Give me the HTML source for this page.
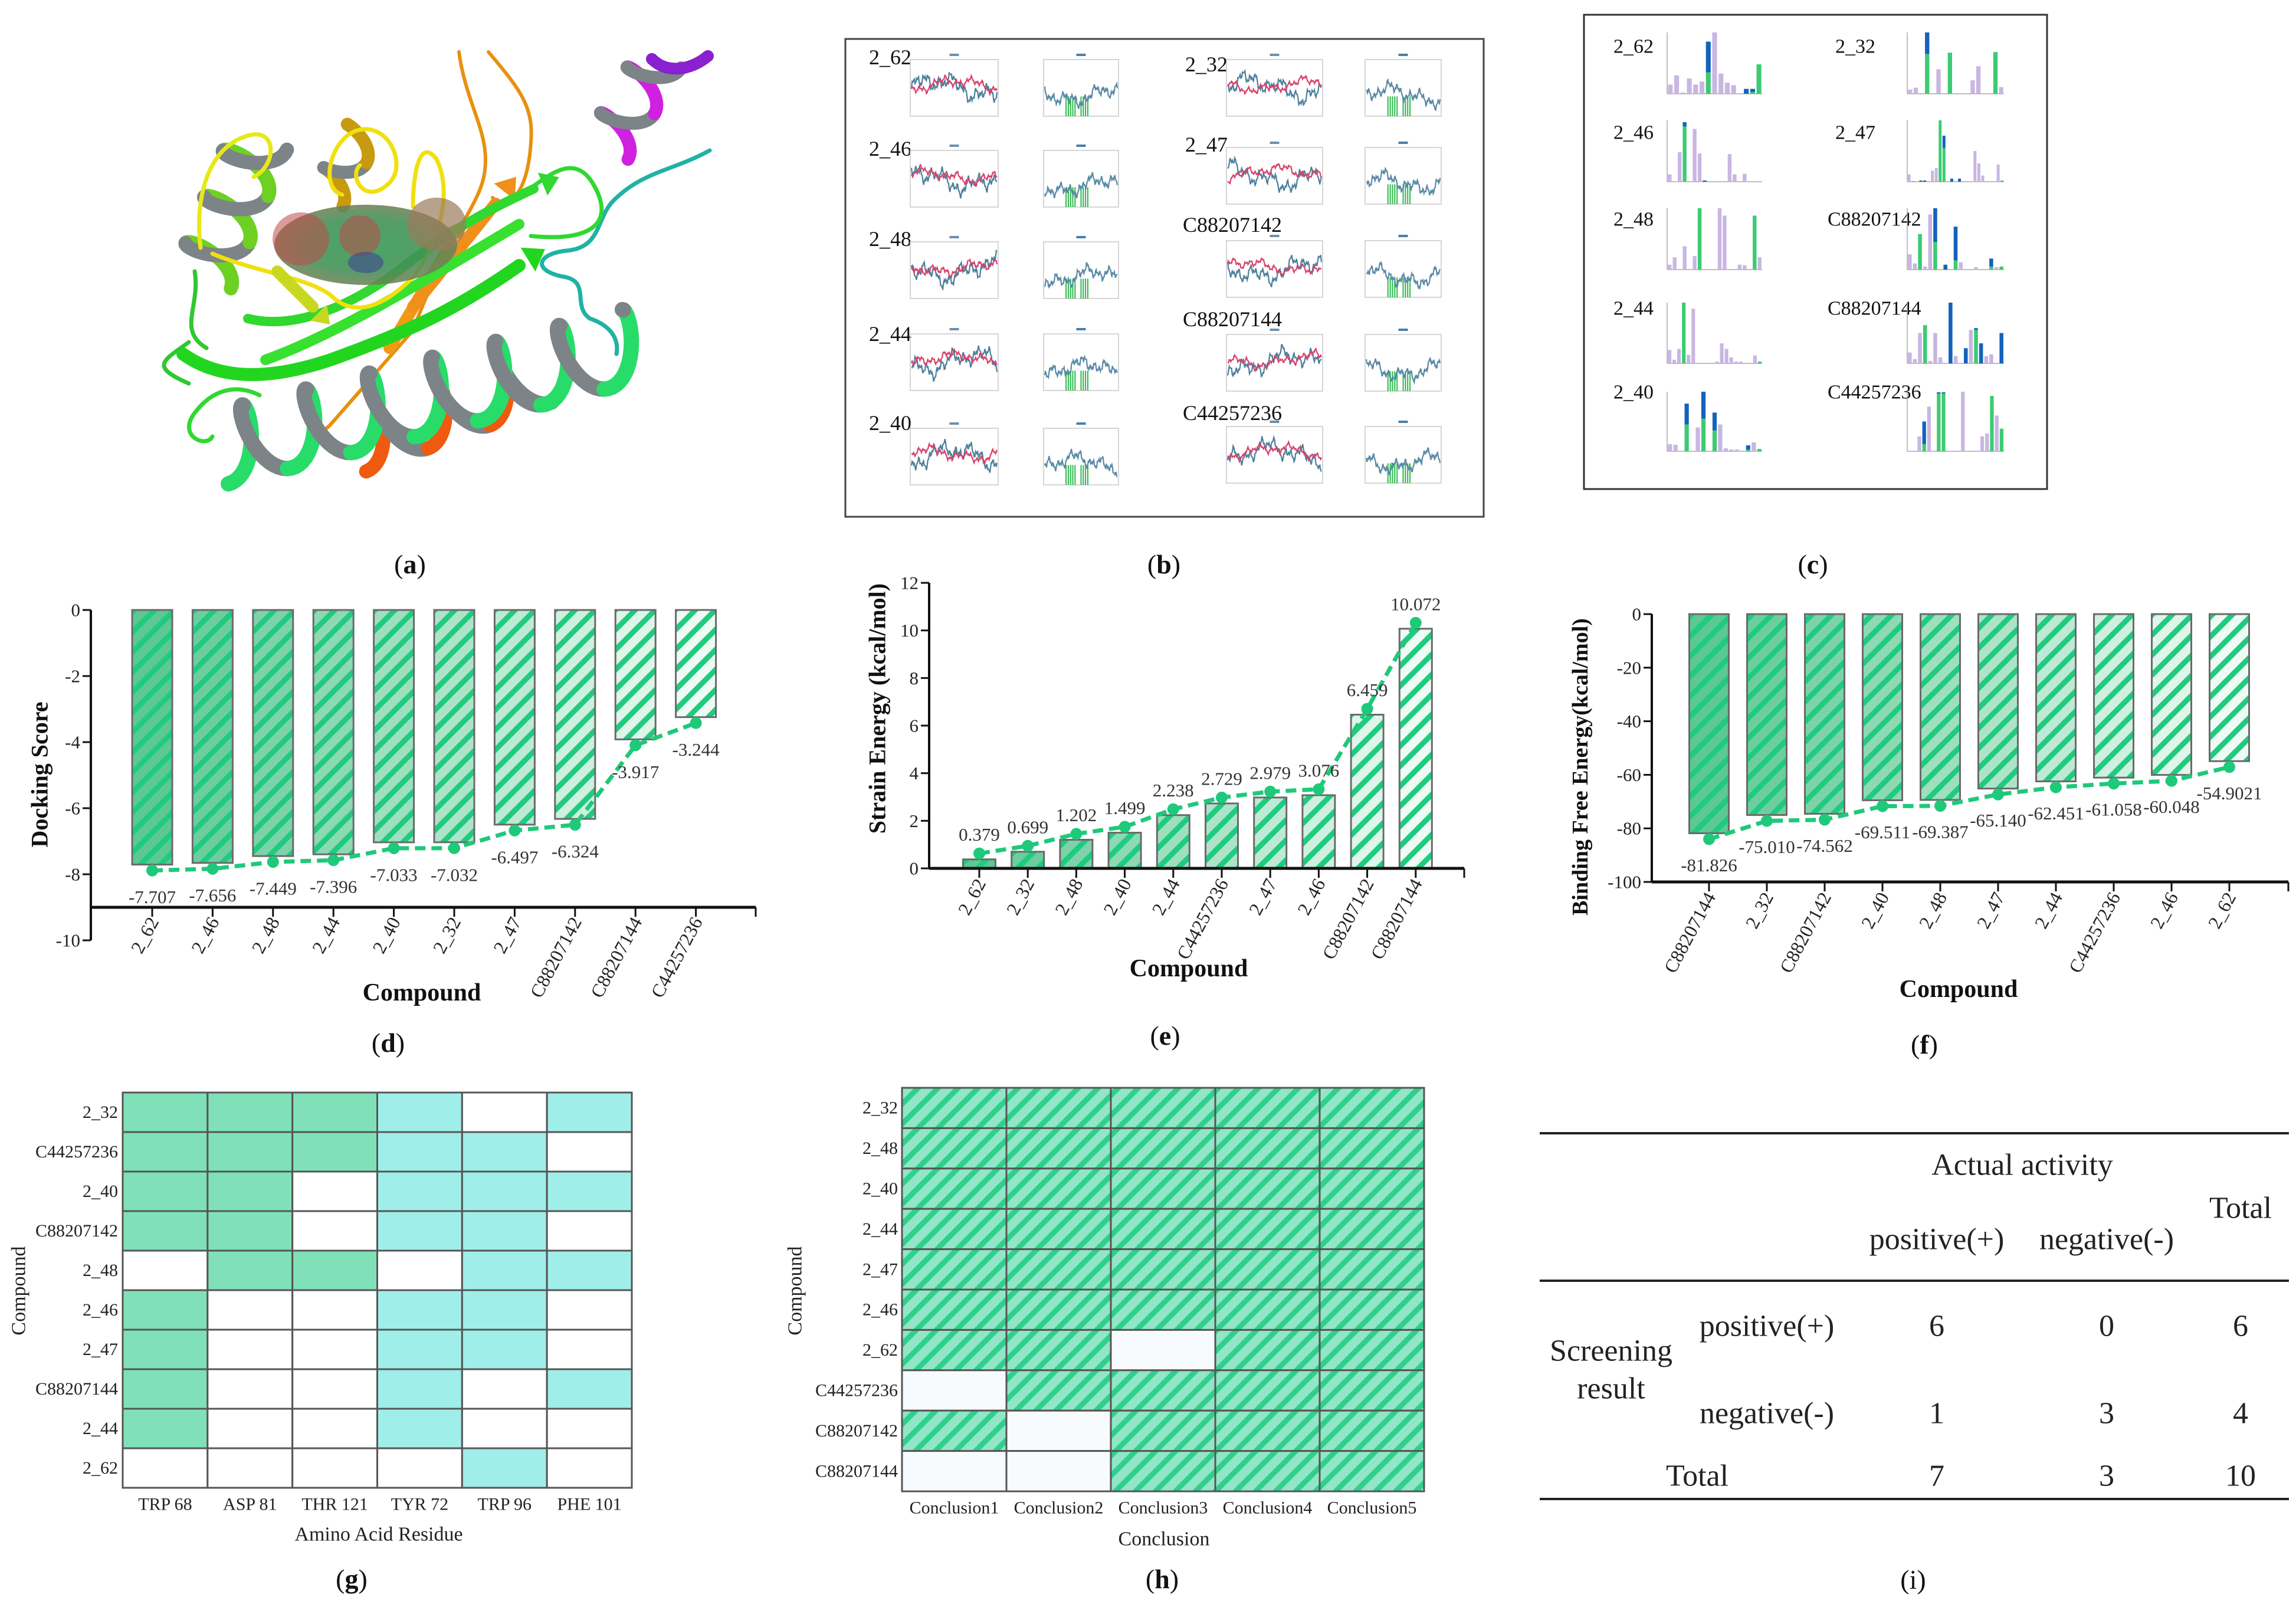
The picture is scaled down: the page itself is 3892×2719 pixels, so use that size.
<!DOCTYPE html>
<html><head><meta charset="utf-8">
<style>body{margin:0;background:#fff}svg{display:block;font-family:"Liberation Serif",serif}</style>
</head><body>
<svg id="fig" xmlns="http://www.w3.org/2000/svg" width="3892" height="2719" viewBox="0 0 3892 2719">
<defs id="defs">
<radialGradient id="blobGrad" cx="50%" cy="50%" r="60%">
<stop offset="0%" stop-color="#2f9a50"/><stop offset="55%" stop-color="#3f8f55"/><stop offset="100%" stop-color="#8a7a55"/>
</radialGradient>
<pattern id="hatchH" patternUnits="userSpaceOnUse" width="24" height="24" patternTransform="rotate(45)">
<rect width="24" height="24" fill="#90e6c6"/><rect width="9" height="24" fill="#2fcf8c"/>
</pattern>
</defs>
<rect x="0" y="0" width="3892" height="2719" fill="#fff"/>
</svg>
<script>
const NS='http://www.w3.org/2000/svg';
const svg=document.getElementById('fig');
const defs=document.getElementById('defs');
function mk(tag,attrs,parent){const e=document.createElementNS(NS,tag);for(const k in attrs)e.setAttribute(k,attrs[k]);(parent||svg).appendChild(e);return e;}
function txt(s,attrs,parent){const e=mk('text',attrs,parent);e.textContent=s;return e;}

/* ---------- chart data ---------- */
const dockCats=['2_62','2_46','2_48','2_44','2_40','2_32','2_47','C88207142','C88207144','C44257236'];
const dockVals=[-7.707,-7.656,-7.449,-7.396,-7.033,-7.032,-6.497,-6.324,-3.917,-3.244];
const dockLabels=['-7.707','-7.656','-7.449','-7.396','-7.033','-7.032','-6.497','-6.324','-3.917','-3.244'];
const dockTicks=[0,-2,-4,-6,-8,-10];
const strainCats=['2_62','2_32','2_48','2_40','2_44','C44257236','2_47','2_46','C88207142','C88207144'];
const strainVals=[0.379,0.699,1.202,1.499,2.238,2.729,2.979,3.076,6.459,10.072];
const strainLabels=['0.379','0.699','1.202','1.499','2.238','2.729','2.979','3.076','6.459','10.072'];
const strainTicks=[0,2,4,6,8,10,12];
const bindCats=['C88207144','2_32','C88207142','2_40','2_48','2_47','2_44','C44257236','2_46','2_62'];
const bindVals=[-81.826,-75.010,-74.562,-69.511,-69.387,-65.140,-62.451,-61.058,-60.048,-54.9021];
const bindLabels=['-81.826','-75.010','-74.562','-69.511','-69.387','-65.140','-62.451','-61.058','-60.048','-54.9021'];
const bindTicks=[0,-20,-40,-60,-80,-100];

const gRows=['2_32','C44257236','2_40','C88207142','2_48','2_46','2_47','C88207144','2_44','2_62'];
const gCols=['TRP 68','ASP 81','THR 121','TYR 72','TRP 96','PHE 101'];
const gColGroup=[0,0,0,1,1,1];
const gMatrix=[[1,1,1,1,0,1],[1,1,1,1,1,0],[1,1,0,1,1,1],[1,1,0,1,1,0],[0,1,1,0,1,1],[1,0,0,1,1,0],[1,0,0,1,1,0],[1,0,0,1,0,1],[1,0,0,1,0,0],[0,0,0,0,1,0]];
const hRows=['2_32','2_48','2_40','2_44','2_47','2_46','2_62','C44257236','C88207142','C88207144'];
const hCols=['Conclusion1','Conclusion2','Conclusion3','Conclusion4','Conclusion5'];
const hMatrix=[[1,1,1,1,1],[1,1,1,1,1],[1,1,1,1,1],[1,1,1,1,1],[1,1,1,1,1],[1,1,1,1,1],[1,1,0,1,1],[0,1,1,1,1],[1,0,1,1,1],[0,0,1,1,1]];

function mix(a,b,t){const pa=[1,3,5].map(i=>parseInt(a.substr(i,2),16)),pb=[1,3,5].map(i=>parseInt(b.substr(i,2),16));return 'rgb('+pa.map((v,i)=>Math.round(v+(pb[i]-v)*t)).join(',')+')';}

function barChart(o){
  const g=mk('g',{});
  
  
  const y=v=>o.yMinPx+(v-o.dom[0])/(o.dom[1]-o.dom[0])*(o.yMaxPx-o.yMinPx);
  const x=i=>o.c0+i*o.step;
  const pOff=o.vals[0]<0?10:-10;
  o.cats.forEach((c,i)=>{
    const pid='pat-'+o.name+'-'+i;
    const p=mk('pattern',{id:pid,patternUnits:'userSpaceOnUse',width:24,height:24,patternTransform:'rotate(45)'},defs);
    mk('rect',{width:24,height:24,fill:mix('#5cc894','#eefbf4',i/(o.cats.length-1))},p);
    mk('rect',{width:9,height:24,fill:'#1fcb7e'},p);
    const v=o.vals[i];
    const top=Math.min(y(0),y(v)),h=Math.abs(y(v)-y(0));
    const r=mk('rect',{x:x(i)-o.bw/2,y:top,width:o.bw,height:h,fill:'url(#'+pid+')',stroke:'#6a6a6a','stroke-width':3},g);
    
    
  });
  const pts=o.vals.map((v,i)=>x(i)+','+(y(v)+pOff)).join(' ');
  const pl=mk('polyline',{points:pts,fill:'none',stroke:'#1fc97a','stroke-width':7,'stroke-dasharray':'18 10'},g);
  
  
  o.vals.forEach((v,i)=>{
    const c=mk('circle',{cx:x(i),cy:y(v)+pOff,r:10,fill:'#1fc97a'},g);
    
    
    const t=txt(o.labels[i],{x:x(i),y:y(v)+pOff+o.labOff,'text-anchor':'middle','dominant-baseline':'central','font-size':31,fill:'#333'},g);
    
    
  });
  const ya=mk('line',{x1:o.axisX,y1:y(o.dom[1]),x2:o.axisX,y2:y(o.dom[0]),stroke:'#111','stroke-width':4},g);
  
  
  o.ticks.forEach(tv=>{
    mk('line',{x1:o.axisX-14,y1:y(tv),x2:o.axisX,y2:y(tv),stroke:'#111','stroke-width':3},g);
    const t=txt(String(tv),{x:o.axisX-18,y:y(tv),'text-anchor':'end','dominant-baseline':'central','font-size':31,fill:'#222'},g);
    
    
  });
  const xy=y(o.xAxisVal);
  const xa=mk('line',{x1:o.axisX,y1:xy,x2:o.axisRight,y2:xy,stroke:'#111','stroke-width':5},g);
  
  
  mk('line',{x1:o.axisRight,y1:xy,x2:o.axisRight,y2:xy+16,stroke:'#111','stroke-width':3},g);
  o.cats.forEach((c,i)=>{
    mk('line',{x1:x(i),y1:xy,x2:x(i),y2:xy+16,stroke:'#111','stroke-width':3},g);
    const t=txt(c,{x:x(i)+12,y:o.catY,'text-anchor':'end','font-size':32,fill:'#222',transform:'rotate(-62 '+(x(i)+12)+' '+o.catY+')'},g);
    
    
  });
  const yt=txt(o.title,{x:o.titleX,y:o.titleY,'text-anchor':'middle','font-size':o.titleSize||40,'font-weight':'bold',fill:'#111',transform:'rotate(-90 '+o.titleX+' '+o.titleY+')','dominant-baseline':'central'},g);
  
  
  const xt=txt('Compound',{x:o.xTitleX,y:o.xTitleY,'text-anchor':'middle','dominant-baseline':'central','font-size':42,'font-weight':'bold',fill:'#111'},g);
  
  
}

barChart({name:'docking-score-chart',dom:[-10,0],yMaxPx:1034,yMinPx:1594,axisX:154,axisRight:1281,xAxisVal:-9,c0:258,step:102.4,bw:68,
  cats:dockCats,vals:dockVals,labels:dockLabels,labOff:45,ticks:dockTicks,catY:1562,title:'Docking Score',titleX:67,titleY:1313,xTitleX:715,xTitleY:1683});
barChart({name:'strain-energy-chart',dom:[0,12],yMaxPx:988,yMinPx:1472,axisX:1575,axisRight:2482,xAxisVal:0,c0:1660,step:82.2,bw:55,
  cats:strainCats,vals:strainVals,labels:strainLabels,labOff:-32,ticks:strainTicks,catY:1497,title:'Strain Energy (kcal/mol)',titleX:1487,titleY:1201,xTitleX:2015,xTitleY:1642});
barChart({name:'binding-free-energy-chart',dom:[-100,0],yMaxPx:1041,yMinPx:1495,axisX:2800,axisRight:3879,xAxisVal:-100,c0:2897,step:98,bw:67,
  cats:bindCats,vals:bindVals,labels:bindLabels,labOff:44,ticks:bindTicks,catY:1520,title:'Binding Free Energy(kcal/mol)',titleX:2679,titleY:1300,titleSize:38,xTitleX:3320,xTitleY:1677});

/* ---------- heatmap g ---------- */
(function(){
  const g=mk('g',{});
  
  
  const x0=208,y0=1852,cw=(1071-208)/6,rh=(2522-1852)/10;
  gMatrix.forEach((row,r)=>row.forEach((v,c)=>{
    const e=mk('rect',{x:x0+c*cw,y:y0+r*rh,width:cw,height:rh,fill:v?(gColGroup[c]?'#a0eeea':'#80e1b9'):'#fff',stroke:'#555','stroke-width':3},g);
    
    
  }));
  gRows.forEach((n,r)=>{const t=txt(n,{x:x0-8,y:y0+(r+.5)*rh,'text-anchor':'end','dominant-baseline':'central','font-size':30,fill:'#222'},g);
    
    });
  gCols.forEach((n,c)=>{const t=txt(n,{x:x0+(c+.5)*cw,y:2550,'text-anchor':'middle','dominant-baseline':'central','font-size':30,fill:'#222'},g);
    
    });
  const t1=txt('Amino Acid Residue',{x:642,y:2601,'text-anchor':'middle','dominant-baseline':'central','font-size':34,fill:'#222'},g);
  
  
  const t2=txt('Compound',{x:32,y:2188,'text-anchor':'middle','dominant-baseline':'central','font-size':34,fill:'#222',transform:'rotate(-90 32 2188)'},g);
  
  
})();

/* ---------- conclusion grid h ---------- */
(function(){
  const g=mk('g',{});
  
  
  const x0=1529,y0=1844,cw=(2414-1529)/5,rh=(2528-1844)/10;
  hMatrix.forEach((row,r)=>row.forEach((v,c)=>{
    const e=mk('rect',{x:x0+c*cw,y:y0+r*rh,width:cw,height:rh,fill:v?'url(#hatchH)':'#f8fbfd',stroke:'#555','stroke-width':3},g);
    
    
  }));
  hRows.forEach((n,r)=>{const t=txt(n,{x:x0-7,y:y0+(r+.5)*rh,'text-anchor':'end','dominant-baseline':'central','font-size':30,fill:'#222'},g);
    
    });
  hCols.forEach((n,c)=>{const t=txt(n,{x:x0+(c+.5)*cw,y:2556,'text-anchor':'middle','dominant-baseline':'central','font-size':30,fill:'#222'},g);
    
    });
  const t1=txt('Conclusion',{x:1973,y:2609,'text-anchor':'middle','dominant-baseline':'central','font-size':34,fill:'#222'},g);
  
  
  const t2=txt('Compound',{x:1348,y:2188,'text-anchor':'middle','dominant-baseline':'central','font-size':34,fill:'#222',transform:'rotate(-90 1348 2188)'},g);
  
  
})();

/* ---------- panel (b) mini MD plots ---------- */
const bNames=['2_62','2_46','2_48','2_44','2_40','2_32','2_47','C88207142','C88207144','C44257236'];
(function(){
  const g=mk('g',{});
  
  
  const box=mk('rect',{x:1433,y:66,width:1082,height:810,fill:'#fff',stroke:'#444','stroke-width':3},g);
  
  
  const leftRows=[101,255,410,566,726],rightRows=[101,250,408,567,723];
  const labelY=[[97,252,405,566,717],[109,245,381,541,700]];
  function wig(s,t){return Math.sin(t*0.9+s)*0.3+Math.sin(t*2.7+s*1.7)*0.2+Math.sin(t*7.3+s*3.1)*0.15+Math.sin(t*17+s*2.3)*0.12+Math.sin(t*41+s)*0.08;}
  function line(x,y,w,h,s,base,amp,col){let d='';for(let k=0;k<=120;k++){const t=k/120;const px=x+t*w,py=y+h*(base-amp*wig(s,t*6));d+=(k?'L':'M')+px.toFixed(1)+' '+py.toFixed(1);}
    mk('path',{d:d,fill:'none',stroke:col,'stroke-width':2.2},g);}
  for(let i=0;i<10;i++){
    const col=i<5?0:1,row=i%5;
    const fy=col?rightRows[row]:leftRows[row];
    const f1x=col?2079:1543,f1w=col?163:149,f2x=col?2314:1769,f2w=col?129:127,fh=96;
    const lab=txt(bNames[i],{x:col?(i<7?2009:2005):1473,y:labelY[col][row],'font-size':36,fill:'#111','dominant-baseline':'central'},g);
    
    
    mk('rect',{x:f1x,y:fy,width:f1w,height:fh,fill:'none',stroke:'#c8c8c8','stroke-width':1.5},g);
    mk('rect',{x:f2x,y:fy,width:f2w,height:fh,fill:'none',stroke:'#c8c8c8','stroke-width':1.5},g);
    line(f1x+2,fy,f1w-4,fh,i*1.3,0.5,0.45,'#4d7f9a');
    line(f1x+2,fy,f1w-4,fh,i*2.1+5,0.45,0.25,'#d8406a');
    for(let k=0;k<9;k++){const bx=f2x+f2w*(0.3+k*0.03+(k>4?0.05:0));mk('line',{x1:bx,y1:fy+fh,x2:bx,y2:fy+fh*0.65,stroke:'#2cb84a','stroke-width':2},g);}
    line(f2x+2,fy,f2w-4,fh,i*0.7+9,0.62,0.35,'#5a8aa5');
    mk('rect',{x:f1x+f1w/2-8,y:fy-10,width:16,height:4,fill:'#6a8fb0'},g);
    mk('rect',{x:f2x+f2w/2-8,y:fy-10,width:16,height:4,fill:'#4a7fa8'},g);
  }
})();

/* ---------- panel (c) interaction fraction bars ---------- */
const cNames=['2_62','2_46','2_48','2_44','2_40','2_32','2_47','C88207142','C88207144','C44257236'];
const cBars=[
 'p15 p30 p2 p25 p15 p20 x35/85 p100 p33 p18 p14 p0 b8 x3/8 g48',
 'p12 p1 p48 x90/97 p1 p86 p46 b2 p1 p1 p1 p1 p45 p12 p1 p13 p1 p1 p1',
 'p8 p20 p1 p38 p1 p22 g100 p1 p1 p1 p100 p88 p1 p1 p8 p7 p1 g88 p20',
 'p22 p6 p24 g100 p14 p90 p1 p1 p1 p1 p3 p33 p24 p10 p3 p3 p1 p1 p13 g3',
 'p12 p11 p1 x45/80 p1 p40 x55/100 p1 x35/65 p45 p5 p3 p3 p1 x3/10 p15 g4',
 'p7 p10 p1 x65/100 p1 p40 p1 g67 p1 p1 p1 p22 p45 p1 p1 g68 p11',
 'p12 g1 p1 b2 b2 p1 p18 p22 g100 x55/75 p1 b5 p1 b5 p1 p1 p1 p50 p30 p10 p1 p1 p1 p28 g2',
 'p25 p10 g58 p5 p90 x45/100 p1 b8 p1 x15/70 p12 p1 p1 p4 p1 p1 x5/18 p4 g5',
 'p18 p7 p50 g63 p4 p50 p10 p1 b100 p12 p1 b25 p55 x55/58 b33 p12 p15 p1 b50',
 'p1 p1 p25 x12/50 p75 p1 x97/99 x97/99 p1 p1 p1 p100 p1 p1 p1 p25 p30 g93 p60 g38'];
(function(){
  const g=mk('g',{});
  
  
  const box=mk('rect',{x:2685,y:25,width:785,height:804,fill:'#fff',stroke:'#333','stroke-width':3},g);
  
  
  const rowsY=[[55,159],[204,308],[353,457],[513,616],[664,765]];
  const labY=[79,225,372,523,665];
  cBars.forEach((spec,i)=>{
    const col=i<5?0:1,row=i%5;
    const x0=col?3233:2826,w=col?164:161,[yt,yb]=rowsY[row];
    const lab=txt(cNames[i],{x:col?(i<7?3111:3098):2735,y:labY[row],'font-size':34,fill:'#111','dominant-baseline':'central'},g);
    
    
    mk('line',{x1:x0,y1:yt,x2:x0,y2:yb,stroke:'#aaa','stroke-width':1.5},g);
    mk('line',{x1:x0,y1:yb,x2:x0+w,y2:yb,stroke:'#aaa','stroke-width':1.5},g);
    const items=spec.split(' ');const bw=w/items.length;const H=yb-yt;
    items.forEach((it,k)=>{
      const t=it[0],vals=it.slice(1).split('/').map(Number);const bx=x0+k*bw+bw*0.12,ww=bw*0.76;
      if(t==='x'){const a=vals[0]/100*H,b=vals[1]/100*H;mk('rect',{x:bx,y:yb-a,width:ww,height:a,fill:'#3ccb74'},g);mk('rect',{x:bx,y:yb-b,width:ww,height:b-a,fill:'#1562bd'},g);}
      else{const h=vals[0]/100*H;mk('rect',{x:bx,y:yb-h,width:ww,height:h,fill:t==='p'?'#c9b6e2':t==='g'?'#3ccb74':'#1562bd'},g);}
    });
  });
})();

/* ---------- panel (a) protein cartoon ---------- */
(function(){
  const g=mk('g',{});
  
  
  function helix(A,B,turns,r,col,wd){
    const dx=B[0]-A[0],dy=B[1]-A[1],L=Math.hypot(dx,dy),ux=dx/L,uy=dy/L,nx=-uy,ny=ux;let prev=null;
    for(let k=0;k<=turns*40;k++){const t=k/(turns*40),a=2*Math.PI*turns*t;
      const px=A[0]+dx*t+nx*r*Math.cos(a)+ux*r*0.45*Math.sin(a),py=A[1]+dy*t+ny*r*Math.cos(a)+uy*r*0.45*Math.sin(a);
      if(prev)mk('line',{x1:prev[0],y1:prev[1],x2:px,y2:py,stroke:Math.sin(a)<0?'#7c8488':col,'stroke-width':wd,'stroke-linecap':'round'},g);prev=[px,py];}
  }
  function p(d,col,w){mk('path',{d:d,fill:'none',stroke:col,'stroke-width':w,'stroke-linecap':'round','stroke-linejoin':'round'},g);}
  function arrowHead(x,y,ang,col,s){const c=Math.cos(ang),sn=Math.sin(ang);mk('polygon',{points:[[x+c*s,y+sn*s],[x-sn*s*0.7,y+c*s*0.7],[x+sn*s*0.7,y-c*s*0.7]].map(q=>q.join(',')).join(' '),fill:col},g);}
  p('M 778 88 C 790 180 835 230 820 300 C 810 350 760 400 700 560 L 560 720 L 520 757','#e8900f',6);
  p('M 828 88 C 880 150 905 180 900 240 C 895 330 860 360 835 335','#e8900f',6);
  p('M 660 590 L 760 420','#f09a18',20);arrowHead(770,400,-1.05,'#f09a18',30);
  p('M 700 520 L 840 345','#f0901a',20);arrowHead(855,325,-0.9,'#f0901a',32);
  helix([605,757],[920,640],3,45,'#f05a10',24);
  p('M 1203 255 C 1140 290 1090 290 1040 340 C 1010 370 1020 420 960 425 C 910 430 900 460 960 470 C 1000 480 970 520 1000 540 C 1030 550 1050 570 1045 600','#20b2a5',7);
  helix([1030,250],[1120,95],2,40,'#d020e0',22);
  p('M 1105 100 C 1130 125 1170 120 1200 95','#8a20d0',20);
  helix([345,470],[440,235],3,50,'#6fd024',24);
  helix([555,335],[615,225],1.5,30,'#c89a10',22);
  helix([372,760],[1070,585],6.5,62,'#28dc6a',26);
  p('M 310 600 C 380 650 470 640 560 610 C 700 560 780 520 880 450','#22d620',22);arrowHead(895,440,-0.55,'#22d620',34);
  p('M 450 610 C 560 570 680 500 880 380','#38e030',18);
  p('M 420 540 C 500 560 600 520 700 440 C 780 380 840 350 905 320','#30d830',16);arrowHead(920,312,-0.4,'#30d830',30);
  p('M 905 315 C 940 290 980 260 1010 320 C 1040 380 1000 410 900 400','#30d830',7);
  p('M 320 580 C 280 610 250 620 320 650 M 330 460 C 340 520 300 560 350 590','#30c830',7);
  p('M 440 670 C 400 650 360 660 330 700 C 300 740 350 760 360 740','#30d830',7);
  p('M 340 420 C 330 340 350 250 420 230 C 470 215 470 280 430 300','#e8e818',7);
  p('M 360 430 C 430 460 520 470 560 500 C 600 540 650 520 700 470 C 740 420 770 330 740 270 C 710 230 700 300 700 350','#f0e010',7);
  p('M 580 330 C 540 320 560 230 610 220 C 660 210 690 280 660 310 C 620 350 590 300 610 280','#f0e010',7);
  p('M 470 460 L 530 520','#c8d820',20);arrowHead(540,530,0.8,'#c8d820',28);
  const bl=mk('ellipse',{cx:620,cy:415,rx:155,ry:68,fill:'url(#blobGrad)',opacity:0.88},g);
  
  
  mk('ellipse',{cx:510,cy:405,rx:48,ry:45,fill:'#c04848',opacity:0.55},g);
  mk('ellipse',{cx:610,cy:400,rx:35,ry:35,fill:'#c04848',opacity:0.55},g);
  mk('ellipse',{cx:740,cy:380,rx:50,ry:45,fill:'#9a7a5a',opacity:0.7},g);
  mk('ellipse',{cx:620,cy:445,rx:30,ry:18,fill:'#404890',opacity:0.6},g);
})();

/* ---------- table i ---------- */
(function(){
  const g=mk('g',{});
  
  
  [1921,2171,2541].forEach(yy=>{const l=mk('line',{x1:2610,y1:yy,x2:3880,y2:yy,stroke:'#222','stroke-width':4},g);
    
    });
  const cells=[['Actual activity',3428,1975],['Total',3798,2048],['positive(+)',3283,2101],['negative(-)',3571,2101],
    ['Screening',2731,2290],['result',2731,2354],['positive(+)',2995,2248],['negative(-)',2995,2396],['Total',2877,2502],
    ['6',3283,2248],['0',3571,2248],['6',3798,2248],['1',3283,2396],['3',3571,2396],['4',3798,2396],['7',3283,2502],['3',3571,2502],['10',3798,2502]];
  cells.forEach(c=>{const t=txt(c[0],{x:c[1],y:c[2],'text-anchor':'middle','dominant-baseline':'central','font-size':52,fill:'#222'},g);
    
    });
})();

/* ---------- panel labels ---------- */
[['(a)',695,956],['(b)',1973,956],['(c)',3073,956],['(d)',658,1767],['(e)',1975,1755],['(f)',3262,1770],['(g)',596,2676],['(h)',1970,2676],['(i)',3243,2677]].forEach(L=>{
  const t=mk('text',{x:L[1],y:L[2],'text-anchor':'middle','dominant-baseline':'central','font-size':46,fill:'#111'});
  
  
  const b=L[0].slice(1,2);
  const s1=mk('tspan',{},t);s1.textContent='(';
  const s2=mk('tspan',{'font-weight':L[0]==='(i)'?'normal':'bold'},t);s2.textContent=b;
  const s3=mk('tspan',{},t);s3.textContent=')';
});
</script>
</body></html>
